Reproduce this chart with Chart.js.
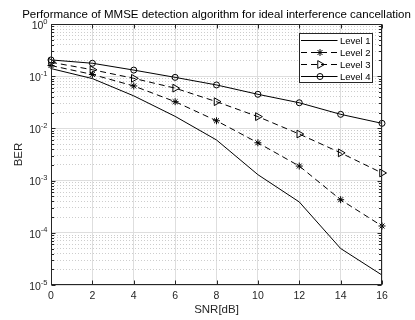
<!DOCTYPE html>
<html>
<head>
<meta charset="utf-8">
<script src="https://cdn.jsdelivr.net/npm/chart.js@4/dist/chart.umd.min.js"></script>
<style>
  html, body { margin: 0; padding: 0; background: #ffffff; }
  #wrap { width: 415px; height: 320px; }
</style>
</head>
<body>
<div id="wrap"><canvas id="c" width="415" height="320"></canvas></div>
<script>
// ---- data ----
const snr = [0, 2, 4, 6, 8, 10, 12, 14, 16];
const level1 = [0.14, 0.09, 0.042, 0.017, 0.006, 0.0013, 0.00039, 0.00005, 0.0000155];
const level2 = [0.16, 0.108, 0.065, 0.0325, 0.014, 0.0053, 0.0019, 0.00043, 0.000135];
const level3 = [0.185, 0.133, 0.091, 0.059, 0.0325, 0.0168, 0.0078, 0.0034, 0.0014];
const level4 = [0.205, 0.177, 0.131, 0.095, 0.068, 0.045, 0.031, 0.0186, 0.0125];
const seriesNames = ['Level 1', 'Level 2', 'Level 3', 'Level 4'];
const xTicks = [0, 2, 4, 6, 8, 10, 12, 14, 16];
const xTickLabels = ['0', '2', '4', '6', '8', '10', '12', '14', '16'];
const yMajorTicks = [1, 0.1, 0.01, 0.001, 0.0001, 0.00001];
const yTickExponents = ['0', '-1', '-2', '-3', '-4', '-5'];
const yMinorMantissas = [2, 3, 4, 5, 6, 7, 8, 9];
const titleText = 'Performance of MMSE detection algorithm for ideal interference cancellation';
const xTitle = 'SNR[dB]';
const yTitle = 'BER';

const yMinorTicks = [];
yMajorTicks.slice(1).forEach(d => yMinorMantissas.forEach(m => yMinorTicks.push(m * d)));

const FONT = '"Liberation Sans", Arial, Helvetica, sans-serif';
const AX = '#262626';

function pts(arr) { return snr.map((x, i) => ({ x: x, y: arr[i] })); }

const styles = [
  { dash: [], pointStyle: false, radius: 0, rotation: 0 },
  { dash: [6, 4], pointStyle: 'star', radius: 3.5, rotation: 0 },
  { dash: [6, 4], pointStyle: 'triangle', radius: 4.5, rotation: 90 },
  { dash: [], pointStyle: 'circle', radius: 3, rotation: 0 }
];
const allSeries = [level1, level2, level3, level4];

const datasets = allSeries.map((arr, i) => ({
  label: seriesNames[i],
  data: pts(arr),
  borderColor: '#000000',
  backgroundColor: 'rgba(0,0,0,0)',
  borderWidth: 1,
  borderDash: styles[i].dash,
  pointStyle: styles[i].pointStyle || 'circle',
  pointRadius: styles[i].radius,
  pointHoverRadius: styles[i].radius,
  pointRotation: styles[i].rotation,
  pointBorderColor: '#000000',
  pointBackgroundColor: 'rgba(0,0,0,0)',
  pointBorderWidth: 1,
  tension: 0,
  clip: false,
  yAxisID: 'y',
  order: 4 - i
}));

function drawMarker(ctx, style, x, y) {
  if (!style.pointStyle) return;
  const r = style.radius;
  ctx.save();
  ctx.strokeStyle = '#000';
  ctx.lineWidth = 1;
  ctx.setLineDash([]);
  ctx.beginPath();
  if (style.pointStyle === 'circle') {
    ctx.arc(x, y, r, 0, Math.PI * 2);
  } else if (style.pointStyle === 'triangle') {
    const rad = style.rotation * Math.PI / 180;
    for (let k = 0; k < 3; k++) {
      const a = rad + k * 2 * Math.PI / 3;
      const px = x + Math.sin(a) * r, py = y - Math.cos(a) * r;
      if (k === 0) ctx.moveTo(px, py); else ctx.lineTo(px, py);
    }
    ctx.closePath();
  } else if (style.pointStyle === 'star') {
    for (let k = 0; k < 4; k++) {
      const a = k * Math.PI / 4;
      ctx.moveTo(x + Math.cos(a) * r, y + Math.sin(a) * r);
      ctx.lineTo(x - Math.cos(a) * r, y - Math.sin(a) * r);
    }
  }
  ctx.stroke();
  ctx.restore();
}

const decorPlugin = {
  id: 'decor',
  afterDraw(chart) {
    const ctx = chart.ctx;
    const a = chart.chartArea;
    const xs = chart.scales.x, ys = chart.scales.y;
    const L = Math.round(a.left) + 0.5, R = Math.round(a.right) - 0.5;
    const T = Math.round(a.top) + 0.5, B = Math.round(a.bottom) - 0.5;
    ctx.save();
    // axes box
    ctx.strokeStyle = AX;
    ctx.lineWidth = 1;
    ctx.setLineDash([]);
    ctx.strokeRect(L, T, R - L, B - T);
    // ticks
    ctx.beginPath();
    xTicks.forEach(v => {
      const px = Math.round(xs.getPixelForValue(v)) + 0.5;
      ctx.moveTo(px, B); ctx.lineTo(px, B - 4);
      ctx.moveTo(px, T); ctx.lineTo(px, T + 4);
    });
    yMajorTicks.forEach(v => {
      const py = Math.round(ys.getPixelForValue(v)) + 0.5;
      ctx.moveTo(L, py); ctx.lineTo(L + 4, py);
      ctx.moveTo(R, py); ctx.lineTo(R - 4, py);
    });
    yMinorTicks.forEach(v => {
      const py = Math.round(ys.getPixelForValue(v)) + 0.5;
      ctx.moveTo(L, py); ctx.lineTo(L + 2.5, py);
      ctx.moveTo(R, py); ctx.lineTo(R - 2.5, py);
    });
    ctx.stroke();

    // x tick labels
    ctx.fillStyle = AX;
    ctx.font = '10.5px ' + FONT;
    ctx.textAlign = 'center';
    ctx.textBaseline = 'middle';
    xTicks.forEach((v, i) => {
      ctx.fillText(xTickLabels[i], xs.getPixelForValue(v), 296.5);
    });
    // y tick labels 10^n
    yMajorTicks.forEach((v, i) => {
      const py = ys.getPixelForValue(v);
      ctx.font = '7.5px ' + FONT;
      const ew = ctx.measureText(yTickExponents[i]).width;
      const right = 47.5;
      ctx.textAlign = 'left';
      ctx.textBaseline = 'middle';
      ctx.fillText(yTickExponents[i], right - ew, py - 2.5);
      ctx.font = '10.5px ' + FONT;
      ctx.textAlign = 'right';
      ctx.fillText('10', right - ew, py + 2);
    });
    // axis titles
    ctx.font = '11.5px ' + FONT;
    ctx.textAlign = 'center';
    ctx.textBaseline = 'middle';
    ctx.fillText(xTitle, (a.left + a.right) / 2, 310);
    ctx.save();
    ctx.translate(19, (a.top + a.bottom) / 2);
    ctx.rotate(-Math.PI / 2);
    ctx.fillText(yTitle, 0, 0);
    ctx.restore();
    // chart title
    ctx.fillStyle = '#000';
    ctx.font = '11.5px ' + FONT;
    ctx.textBaseline = 'alphabetic';
    ctx.fillText(titleText, (a.left + a.right) / 2, 17.5);

    // legend
    const bx = 299.5, by = 33.5, bw = 73, bh = 49;
    ctx.fillStyle = '#fff';
    ctx.fillRect(bx, by, bw, bh);
    ctx.strokeStyle = AX;
    ctx.lineWidth = 1;
    ctx.strokeRect(bx, by, bw, bh);
    const rows = [40.5, 52.5, 64.5, 76.5];
    seriesNames.forEach((name, i) => {
      const y = rows[i];
      ctx.save();
      ctx.strokeStyle = '#000';
      ctx.lineWidth = 1;
      ctx.setLineDash(styles[i].dash);
      ctx.beginPath();
      ctx.moveTo(301, y); ctx.lineTo(337.5, y);
      ctx.stroke();
      ctx.restore();
      drawMarker(ctx, styles[i], 320, y);
      ctx.fillStyle = '#000';
      ctx.font = '9.5px ' + FONT;
      ctx.textAlign = 'left';
      ctx.textBaseline = 'middle';
      ctx.fillText(name, 340, y + 0.5);
    });
    ctx.restore();
  }
};

new Chart(document.getElementById('c'), {
  type: 'line',
  data: { datasets: datasets },
  options: {
    responsive: false,
    animation: false,
    devicePixelRatio: 1,
    layout: { padding: { left: 51, right: 33, top: 24, bottom: 35 } },
    plugins: { legend: { display: false }, title: { display: false }, tooltip: { enabled: false } },
    scales: {
      x: {
        type: 'linear', min: 0, max: 16,
        afterBuildTicks: s => { s.ticks = xTicks.map(v => ({ value: v })); },
        ticks: { display: false },
        grid: { color: '#dedede', lineWidth: 1, drawTicks: false },
        border: { display: false }
      },
      y2: {
        type: 'logarithmic', position: 'left', min: 0.00001, max: 1,
        afterBuildTicks: s => { s.ticks = yMinorTicks.map(v => ({ value: v })); },
        ticks: { display: false },
        grid: { color: '#cdcdcd', lineWidth: 1, drawTicks: false },
        border: { display: false, dash: [1, 2] }
      },
      y: {
        type: 'logarithmic', position: 'left', min: 0.00001, max: 1,
        afterBuildTicks: s => { s.ticks = yMajorTicks.map(v => ({ value: v })); },
        ticks: { display: false },
        grid: { color: '#dedede', lineWidth: 1, drawTicks: false },
        border: { display: false }
      }
    }
  },
  plugins: [decorPlugin]
});
</script>
</body>
</html>
